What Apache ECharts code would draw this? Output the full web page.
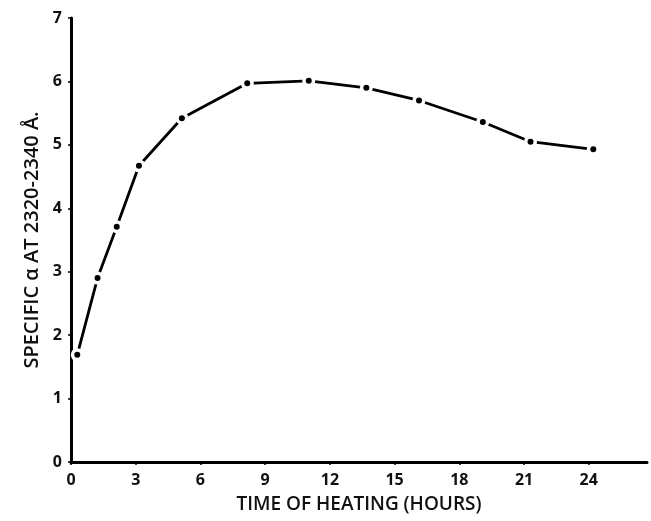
<!DOCTYPE html>
<html>
<head>
<meta charset="utf-8">
<script src="https://cdn.jsdelivr.net/npm/echarts@6/dist/echarts.min.js"></script>
<style>
html,body{margin:0;padding:0;background:#fff;}
#c{width:651px;height:521px;}
</style>
</head>
<body>
<div id="c"></div>
<script>
// Data
const hours = [0.29, 1.23, 2.12, 3.15, 5.14, 8.17, 11.02, 13.69, 16.13, 19.09, 21.30, 24.21];
const specificAlpha = [1.69, 2.90, 3.71, 4.67, 5.42, 5.97, 6.01, 5.90, 5.70, 5.36, 5.05, 4.93];
const xTicks = [0, 3, 6, 9, 12, 15, 18, 21, 24];
const yTicks = [0, 1, 2, 3, 4, 5, 6, 7];
const xTitle = 'TIME OF HEATING (HOURS)';
const yTitle = 'SPECIFIC α AT 2320-2340 Å.';

const pts = hours.map((h, i) => [h, specificAlpha[i]]);
const FONT = 'Open Sans';

const chart = echarts.init(document.getElementById('c'), null, {renderer: 'canvas'});
chart.setOption({
  backgroundColor: '#fff',
  animation: false,
  grid: {left: 71, right: 4, top: 18, bottom: 59, containLabel: false},
  xAxis: {
    type: 'value', min: 0, max: 26.7, interval: 3,
    name: xTitle, nameLocation: 'middle', nameGap: 33,
    nameTextStyle: {fontFamily: FONT, fontSize: 19, fontWeight: 600, color: '#111'},
    axisLine: {show: true, onZero: false, lineStyle: {color: '#000', width: 3}},
    axisTick: {show: true, inside: false, length: 3, customValues: xTicks, lineStyle: {color: '#000', width: 1.5}},
    axisLabel: {customValues: xTicks, margin: 10, fontFamily: FONT, fontSize: 16, fontWeight: 700, color: '#111'},
    splitLine: {show: false}
  },
  yAxis: {
    type: 'value', min: 0, max: 7, interval: 1,
    name: yTitle, nameLocation: 'middle', nameGap: 29,
    nameTextStyle: {fontFamily: FONT, fontSize: 20, fontWeight: 600, color: '#111'},
    axisLine: {show: true, onZero: false, lineStyle: {color: '#000', width: 3}},
    axisTick: {show: true, inside: false, length: 3, customValues: yTicks, lineStyle: {color: '#000', width: 1.5}},
    axisLabel: {customValues: yTicks, margin: 9, fontFamily: FONT, fontSize: 16, fontWeight: 700, color: '#111'},
    splitLine: {show: false}
  },
  series: [
    {
      type: 'line', data: pts, smooth: false,
      symbol: 'none',
      lineStyle: {color: '#000', width: 2.8},
      zlevel: 0, z: 1
    },
    {
      type: 'scatter', data: pts,
      symbol: 'circle', symbolSize: 13,
      itemStyle: {color: '#ffffff', opacity: 1, borderWidth: 0},
      zlevel: 0, z: 5
    },
    {
      type: 'scatter', data: pts,
      symbol: 'circle', symbolSize: 6,
      itemStyle: {color: '#000000', opacity: 1},
      zlevel: 0, z: 6
    }
  ]
});
</script>
</body>
</html>
